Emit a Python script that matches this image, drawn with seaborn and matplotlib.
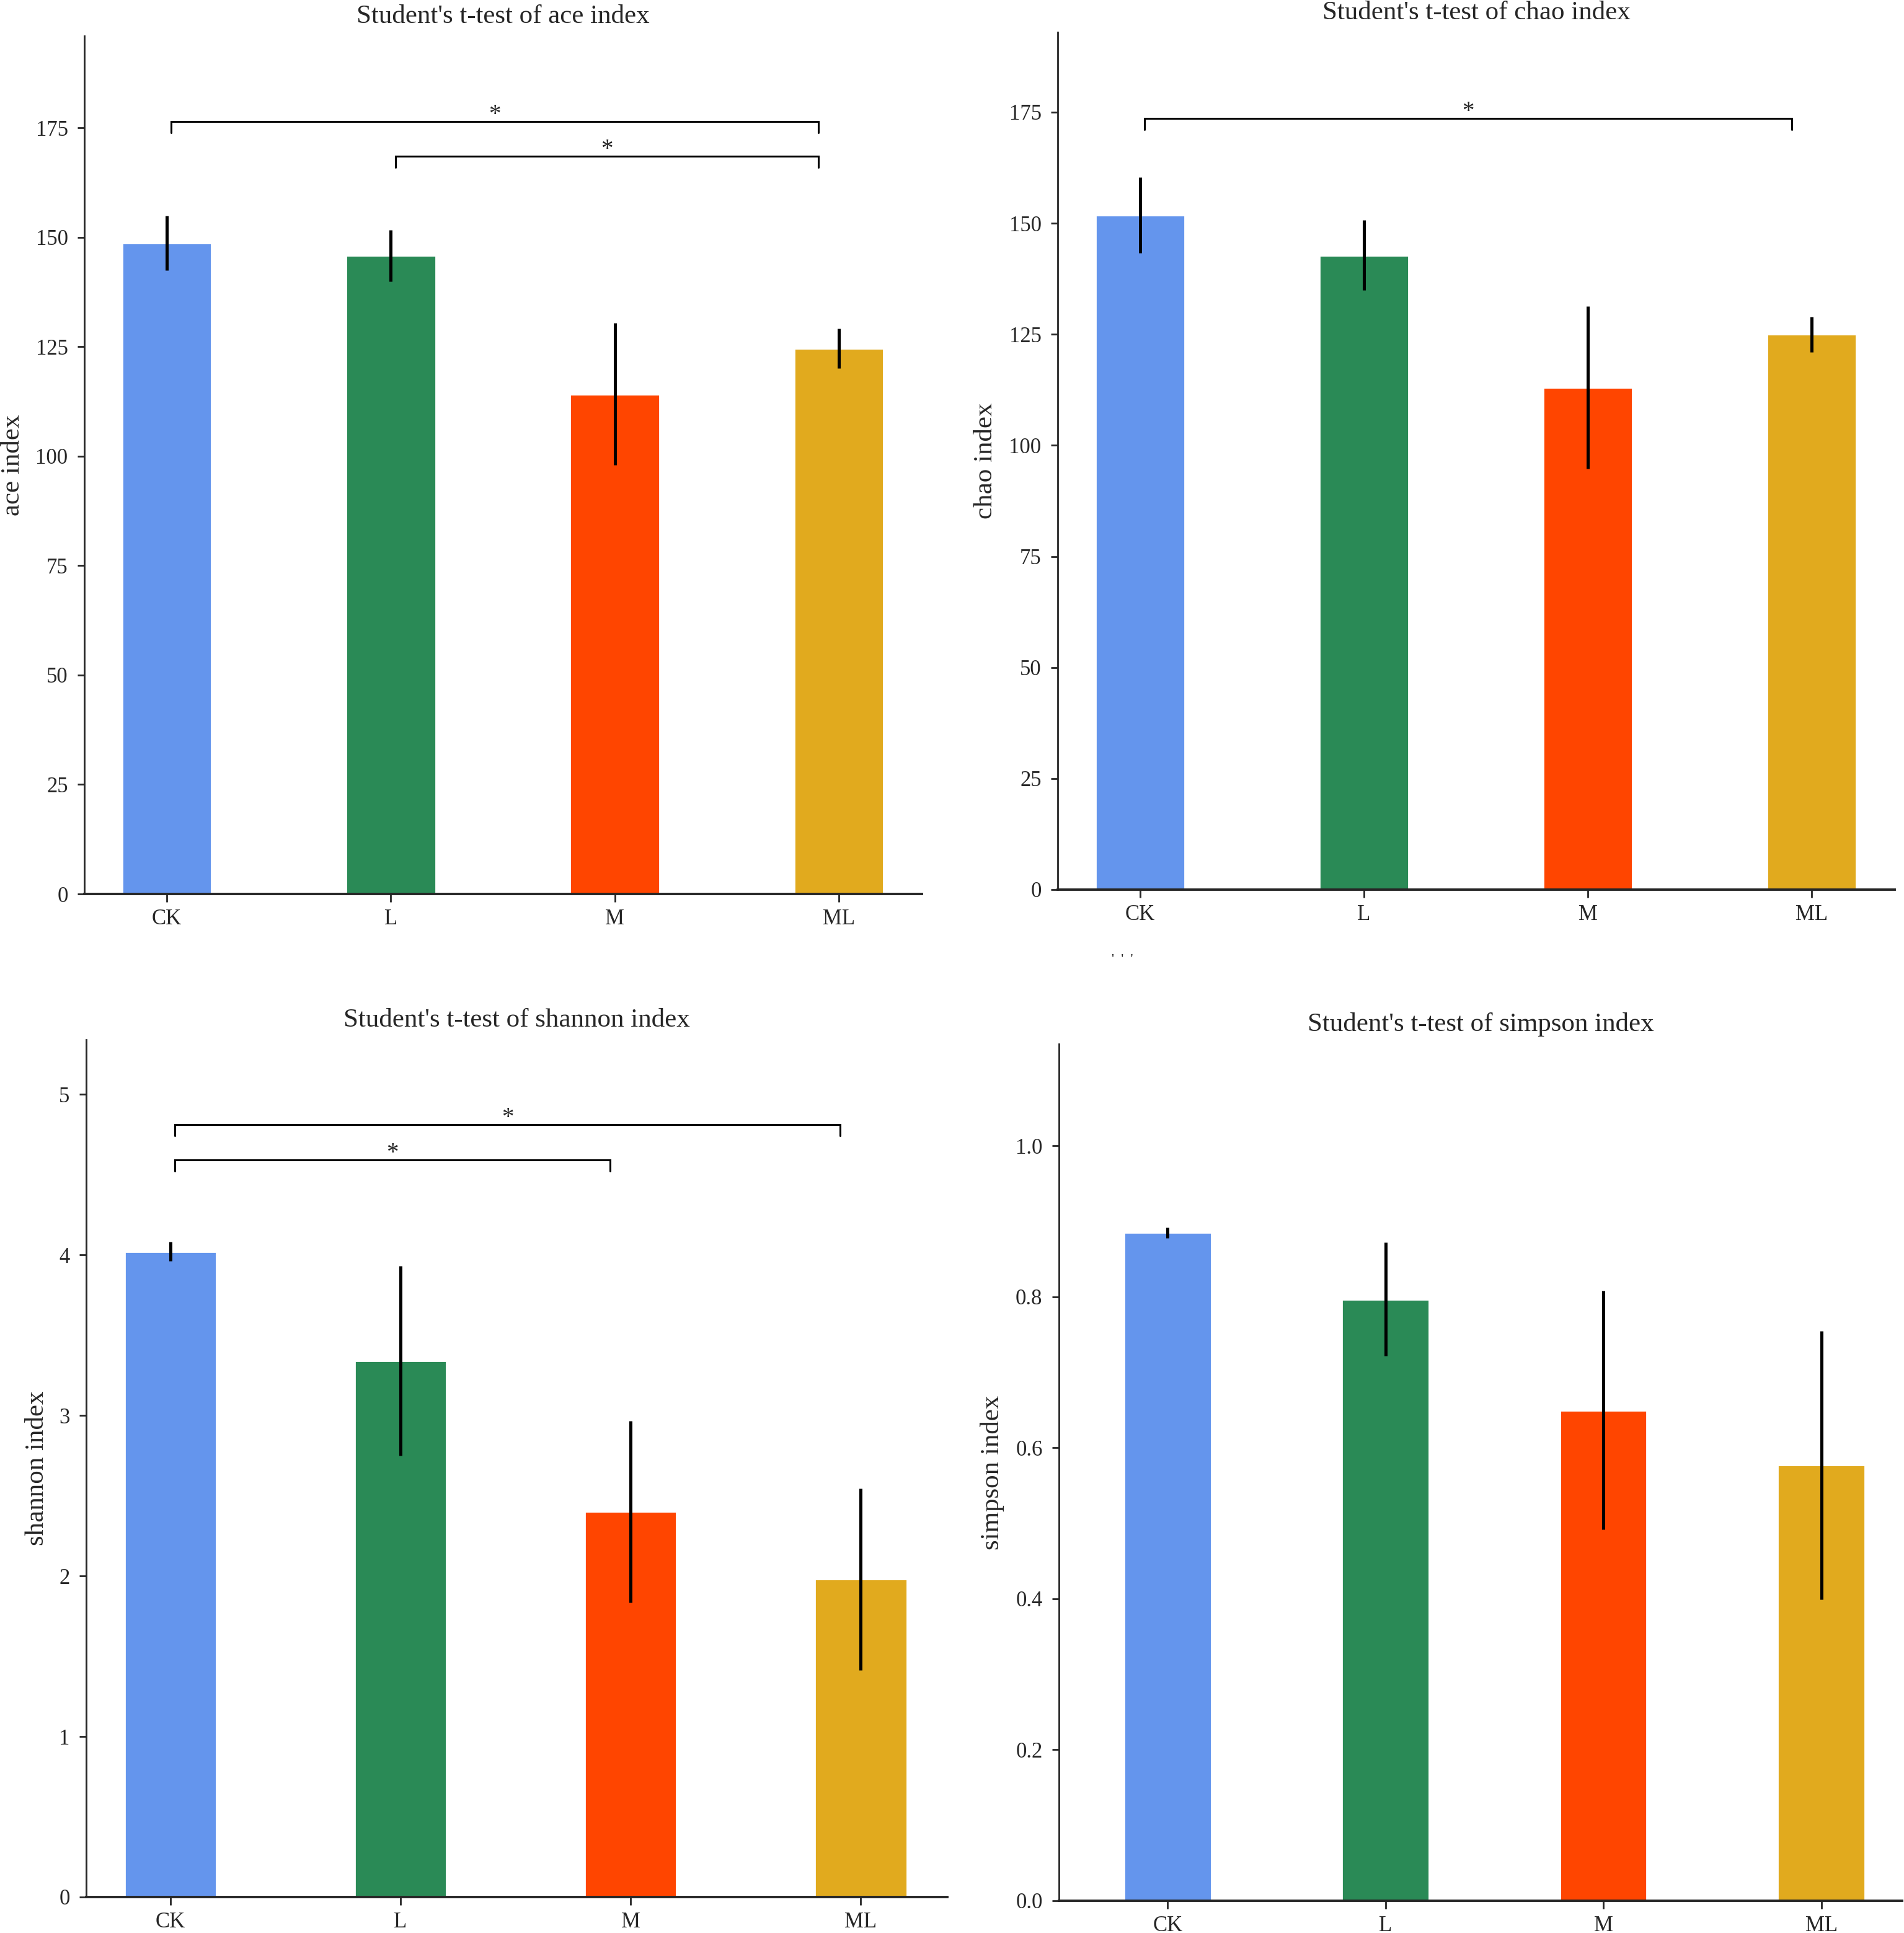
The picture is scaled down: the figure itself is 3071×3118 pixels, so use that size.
import matplotlib
matplotlib.use("Agg")
import matplotlib.pyplot as plt
import seaborn as sns
import pandas as pd

# ---------------- data ----------------
groups = ["CK", "L", "M", "ML"]
colors = ["#6495ED", "#2A8A56", "#FF4500", "#E1AA1E"]

ace_mean = [148.7, 145.8, 114.2, 124.6]
ace_err = [6.2, 5.9, 16.2, 4.5]
chao_mean = [151.8, 142.8, 113.0, 125.0]
chao_err = [8.5, 7.9, 18.3, 4.0]
shannon_mean = [4.02, 3.34, 2.40, 1.98]
shannon_err = [0.06, 0.59, 0.565, 0.565]
simpson_mean = [0.885, 0.797, 0.650, 0.577]
simpson_err = [0.007, 0.075, 0.158, 0.178]

# significance comparisons: (group a, group b, label, bracket height)
ace_sig = [("CK", "ML", "*", 176.4), ("L", "ML", "*", 168.5)]
chao_sig = [("CK", "ML", "*", 173.6)]
shannon_sig = [("CK", "ML", "*", 4.81), ("CK", "M", "*", 4.59)]
simpson_sig = []

titles = ["Student's t-test of ace index", "Student's t-test of chao index",
          "Student's t-test of shannon index", "Student's t-test of simpson index"]
ylabels = ["ace index", "chao index", "shannon index", "simpson index"]
yticks = [[0, 25, 50, 75, 100, 125, 150, 175],
          [0, 25, 50, 75, 100, 125, 150, 175],
          [0, 1, 2, 3, 4, 5],
          [0.0, 0.2, 0.4, 0.6, 0.8, 1.0]]
ytick_labels = [[str(v) for v in yticks[0]], [str(v) for v in yticks[1]],
                [str(v) for v in yticks[2]], ["%.1f" % v for v in yticks[3]]]

# ---------------- style ----------------
sns.set_style("ticks")
plt.rcParams["font.family"] = ["Liberation Serif", "DejaVu Serif"]
plt.rcParams["axes.linewidth"] = 1.0

W, H = 3071, 3118
DPI = 200
fig = plt.figure(figsize=(W / DPI, H / DPI), dpi=DPI)


def rect(l, r, t, b):
    return [l / W, 1 - b / H, (r - l) / W, (b - t) / H]


layouts = [
    dict(rect=rect(136, 1487, 58, 1442), xlim=(-0.368, 3.371), ylim=(0, 196), ylab=115),
    dict(rect=rect(1706, 3056, 52, 1435), xlim=(-0.368, 3.371), ylim=(0, 193), ylab=116),
    dict(rect=rect(139, 1528, 1677, 3060), xlim=(-0.366, 3.376), ylim=(0, 5.34), ylab=79),
    dict(rect=rect(1708, 3068, 1684, 3066), xlim=(-0.499, 3.371), ylim=(0, 1.135), ylab=107),
]

means = [ace_mean, chao_mean, shannon_mean, simpson_mean]
errs = [ace_err, chao_err, shannon_err, simpson_err]
sigs = [ace_sig, chao_sig, shannon_sig, simpson_sig]

for k in range(4):
    lay = layouts[k]
    ax = fig.add_axes(lay["rect"])
    df = pd.DataFrame({"group": groups, "value": means[k]})
    sns.barplot(data=df, x="group", y="value", hue="group", palette=colors,
                width=0.4, saturation=1, errorbar=None, legend=False, ax=ax)
    ax.errorbar(range(len(groups)), means[k], yerr=errs[k], fmt="none",
                ecolor="black", elinewidth=1.8, capsize=0)
    ax.set_xlim(*lay["xlim"])
    ax.set_ylim(*lay["ylim"])
    ax.set_yticks(yticks[k])
    ax.set_yticklabels(ytick_labels[k])
    ax.set_xlabel("")
    ax.set_ylabel(ylabels[k], fontsize=15.5)
    axw = lay["rect"][2] * W
    ax.yaxis.set_label_coords(-lay["ylab"] / axw, 0.5)
    ax.yaxis.label.set_verticalalignment("center")
    ax.set_title(titles[k], fontsize=15.5, pad=7.5)
    sns.despine(ax=ax)
    ax.spines["bottom"].set_linewidth(1.4)
    ax.spines["left"].set_linewidth(1.0)
    ax.tick_params(axis="y", length=4.0, width=1.0, labelsize=12.5, pad=5.5)
    ax.tick_params(axis="x", length=4.5, width=1.0, labelsize=12.5, pad=4.0)

    # significance brackets
    axh = lay["rect"][3] * H
    drop = 18 / axh * (lay["ylim"][1] - lay["ylim"][0])
    for a, b, lab, yb in sigs[k]:
        x1 = groups.index(a) + 0.02
        x2 = groups.index(b) - 0.09
        ax.plot([x1, x1, x2, x2], [yb - drop, yb, yb, yb - drop],
                color="black", lw=1.1, solid_joinstyle="miter", clip_on=False)
        ax.annotate(lab, xy=((x1 + x2) / 2, yb), xytext=(0, 0.5),
                    textcoords="offset points", ha="center", va="baseline",
                    fontsize=14)

# stray marks seen in the reference between panels
fig.text(1810 / W, 1 - 1553 / H, "'  '  '", ha="center", va="baseline", fontsize=8)

fig.savefig("out.png", dpi=DPI)
